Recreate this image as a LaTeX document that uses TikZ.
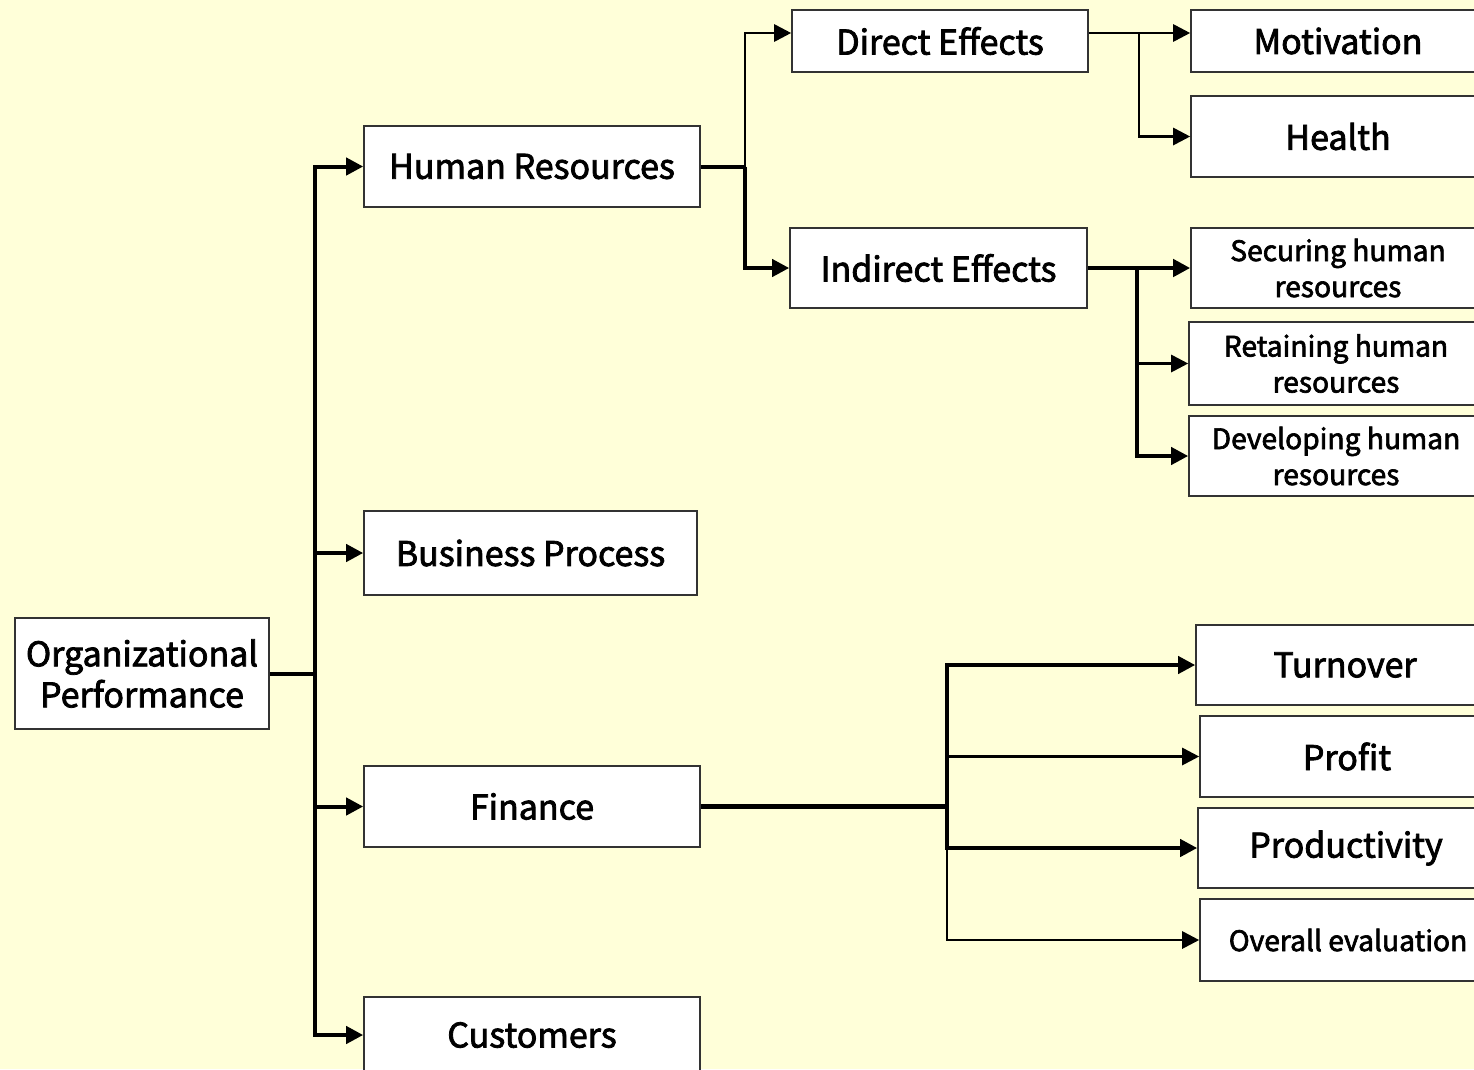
\documentclass[tikz,border=0pt]{standalone}
\usepackage{fontspec}
\setmainfont{Noto Sans CJK JP}[FakeBold=2.3]
\usetikzlibrary{arrows.meta}
\definecolor{bg}{RGB}{255,255,217}
\begin{document}
\begin{tikzpicture}[x=1pt,y=-1pt,
  box/.style={draw=black!80,line width=1.6pt,fill=white,inner sep=0pt,align=center,text=black},
  big/.style={font=\fontsize{34}{41}\selectfont},
  small/.style={font=\fontsize{28.2}{36}\selectfont},
  tip/.style={-{Triangle[length=17pt,width=17pt]}},
  thick conn/.style={line width=4pt,tip},
  thin conn/.style={line width=2.8pt,tip},
  bar/.style={line width=4pt}]
\fill[bg] (0,0) rectangle (1474,1069);
\clip (0,0) rectangle (1474,1069);
% level 0
\node[box,big,minimum width=254pt,minimum height=111pt] (op) at (142,673.5) {Organizational\\Performance};
% level 1
\node[box,big,minimum width=336pt,minimum height=81pt] (hr) at (532,166.5) {Human Resources};
\node[box,big,minimum width=333pt,minimum height=84pt] (bp) at (530.5,553) {Business Process};
\node[box,big,minimum width=336pt,minimum height=81pt] (fi) at (532,806.5) {Finance};
\node[box,big,minimum width=336pt,minimum height=76pt] (cu) at (532,1035) {Customers};
% level 2
\node[box,big,minimum width=296pt,minimum height=62pt] (de) at (940,41) {Direct Effects};
\node[box,big,minimum width=297pt,minimum height=80pt] (ie) at (938.5,268) {Indirect Effects};
% level 3
\node[box,big,minimum width=294pt,minimum height=62pt] (mo) at (1338,41) {Motivation};
\node[box,big,minimum width=294pt,minimum height=81pt] (he) at (1338,136.5) {Health};
\node[box,small,minimum width=294pt,minimum height=80pt] (se) at (1338,268) {Securing human\\resources};
\node[box,small,minimum width=294pt,minimum height=83pt] (re) at (1336,363.5) {Retaining human\\resources};
\node[box,small,minimum width=294pt,minimum height=80pt] (dv) at (1336,456) {Developing human\\resources};
\node[box,big,minimum width=298pt,minimum height=80pt] (tu) at (1345,665) {Turnover};
\node[box,big,minimum width=294pt,minimum height=81pt] (pr) at (1347,756.5) {Profit};
\node[box,big,minimum width=296pt,minimum height=80pt] (pd) at (1346,848) {Productivity};
\node[box,small,minimum width=296pt,minimum height=82pt] (ov) at (1348,940) {Overall evaluation};
% junctions
\coordinate (t) at (315,673.5);
\coordinate (hs) at (745,166.5);
\coordinate (ds) at (1139,33);
\coordinate (is) at (1137,268);
\coordinate (fs) at (947,806.5);
% connectors
\draw[bar] (op.east) -- (t);
\draw[thick conn] (t) |- (hr);
\draw[thick conn] (t) |- (bp);
\draw[thick conn] (t) |- (fi);
\draw[thick conn] (t) |- (cu.west);
\draw[bar] (hr.east) -- (hs);
\draw[thin conn] (hs) |- ([yshift=8pt]de.west);
\draw[thick conn] (hs) |- (ie);
\draw[thin conn] ([yshift=8pt]de.east) -- ([yshift=8pt]mo.west);
\draw[thin conn] (ds) |- (he);
\draw[line width=4.4pt,tip] (ie.east) -- (se);
\draw[bar] (is) -- ([yshift=-1pt]is |- dv);
\draw[thin conn] (is) |- (re);
\draw[thick conn] (is) |- (dv);
\draw[line width=4.4pt] (fi.east) -- (fs);
\draw[thick conn] (fs) |- (tu);
\draw[thin conn] (fs) |- (pr);
\draw[thick conn] (fs) |- (pd);
\draw[thin conn] (fs) |- (ov);
\end{tikzpicture}
\end{document}
